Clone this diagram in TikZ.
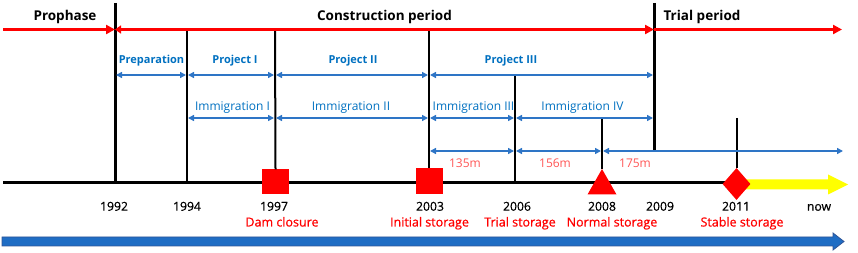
\documentclass[tikz,border=0pt]{standalone}
\usepackage{fontspec}
\setmainfont{Open Sans}
\newfontfamily\medfont[FakeBold=0.6]{Open Sans}
\usetikzlibrary{arrows.meta, shapes.geometric}

\definecolor{lblue}{HTML}{2E75C6}
\definecolor{tblue}{HTML}{0070C0}
\definecolor{lred}{HTML}{FF5555}
\definecolor{evred}{HTML}{FF0000}
\definecolor{bigblue}{HTML}{1F6DC4}
\definecolor{bigblueb}{HTML}{2F5597}
\definecolor{yel}{HTML}{FFFF00}

\begin{document}
\begin{tikzpicture}[x=1pt,y=-1pt,
  phase/.style={font=\fontsize{13.5}{15}\selectfont\bfseries, inner sep=0, anchor=base},
  proj/.style={font=\fontsize{11}{13}\selectfont\bfseries, text=tblue, inner sep=0, anchor=base},
  immi/.style={font=\fontsize{12}{14}\selectfont, text=tblue, inner sep=0, anchor=base},
  lvl/.style={font=\fontsize{12}{14}\selectfont, text=lred, inner sep=0, anchor=base},
  yr/.style={font=\medfont\fontsize{12.2}{14}\selectfont, inner sep=0, anchor=base},
  evt/.style={font=\medfont\fontsize{12.5}{14}\selectfont, text=evred, inner sep=0, anchor=base},
  redarr/.style={red, line width=3pt, -{Triangle[length=9pt,width=9pt]}},
  redarrb/.style={red, line width=3pt, {Triangle[length=6pt,width=8pt]}-{Triangle[length=9pt,width=9pt]}},
  bluearr/.style={lblue, line width=1.5pt, {Triangle[length=6pt,width=6pt]}-{Triangle[length=6pt,width=6pt]}, shorten <=1pt, shorten >=1pt},
  thicktick/.style={black, line width=3pt},
  thintick/.style={black, line width=2pt},
  marker/.style={fill=evred, draw=none, inner sep=0},
]
\useasboundingbox (0,0) rectangle (858,253);

% ---- coordinates on the red period line
\coordinate (r0) at (3,29.5);
\coordinate (r92) at (115,29.5);
\coordinate (r09) at (654,29.5);
\coordinate (rend) at (842,29.5);

% ---- tick coordinates
\coordinate (k92t) at (115,3);    \coordinate (k92b) at (115,182.5);
\coordinate (k94t) at (187,29.5); \coordinate (k94b) at (187,182.5);
\coordinate (k97t) at (275,29.5);
\coordinate (k03t) at (429,29.5);
\coordinate (k06t) at (515,75);   \coordinate (k06b) at (515,182.5);
\coordinate (k08t) at (602,118);
\coordinate (k09t) at (654,3);    \coordinate (k09b) at (654,151);
\coordinate (k11t) at (736.5,118);

% ---- timeline ends
\coordinate (t0) at (3,182.5);
\coordinate (t11) at (737,182.5);

% ---- bottom blue arrow
\fill[bigblue, draw=bigblueb, line width=0.8pt]
  (2,237) -- (833,237) -- (833,233) -- (844,241.5) -- (833,250) -- (833,246) -- (2,246) -- cycle;

% ---- black timeline
\draw[black, line width=2.5pt] (t0) -- (t11);

% ---- yellow arrow
\fill[yel] (737,179.5) -- (828,179.5) -- (828,174.5) -- (848,184.5) -- (828,194.5) -- (828,189.5) -- (737,189.5) -- cycle;

% ---- markers
\node[marker, minimum width=27pt, minimum height=25pt] (m97) at (275.5,182) {};
\node[marker, minimum width=27pt, minimum height=26pt] (m03) at (429,181) {};
\coordinate (m08) at (602,169);
\fill[evred] (m08) -- (616.5,194.5) -- (587.5,194.5) -- cycle;
\node[marker, diamond, minimum width=28pt, minimum height=32pt] (m11) at (736.5,184) {};

% ---- ticks
\draw[thicktick] (k92t) -- (k92b);
\draw[thicktick] (k09t) -- (k09b);
\draw[thintick] (k94t) -- (k94b);
\draw[thintick] (k97t) -- (m97.north);
\draw[thintick] (k03t) -- (m03.north);
\draw[thintick] (k06t) -- (k06b);
\draw[thintick] (k08t) -- (m08);
\draw[thintick] (k11t) -- (m11.north);

% ---- red period arrows
\draw[redarr] (r0) -- (r92);
\draw[redarrb] (r92) -- (r09);
\draw[redarr] (r09) -- (rend);

% ---- project arrows (row 1)
\coordinate (p1a) at (115,75); \coordinate (p1b) at (187,75);
\coordinate (p1c) at (275,75); \coordinate (p1d) at (429,75);
\coordinate (p1e) at (654,75);
\draw[bluearr] (p1a) -- (p1b);
\draw[bluearr] (p1b) -- (p1c);
\draw[bluearr] (p1c) -- (p1d);
\draw[bluearr] (p1d) -- (p1e);

% ---- immigration arrows (row 2)
\coordinate (p2a) at (187,118); \coordinate (p2b) at (275,118);
\coordinate (p2c) at (429,118); \coordinate (p2d) at (515,118);
\coordinate (p2e) at (654,118);
\draw[bluearr] (p2a) -- (p2b);
\draw[bluearr] (p2b) -- (p2c);
\draw[bluearr] (p2c) -- (p2d);
\draw[bluearr] (p2d) -- (p2e);

% ---- water level arrows (row 3)
\coordinate (p3a) at (429,151); \coordinate (p3b) at (515,151);
\coordinate (p3c) at (602,151); \coordinate (p3d) at (844,151);
\draw[bluearr] (p3a) -- (p3b);
\draw[bluearr] (p3b) -- (p3c);
\draw[bluearr] (p3c) -- (p3d);

% ---- titles
\node[phase] (tpro) at (65,21) {Prophase};
\node[phase] (tcon) at (384.5,21) {Construction period};
\node[phase] (ttri) at (702,21) {Trial period};

% ---- row 1 labels
\node[proj] (lprep) at (151.5,64) {Preparation};
\node[proj] (lp1) at (235,64) {Project I};
\node[proj] (lp2) at (353,64) {Project II};
\node[proj] (lp3) at (511,64) {Project III};

% ---- row 2 labels
\node[immi] (li1) at (232.5,111) {Immigration I};
\node[immi] (li2) at (351,111) {Immigration II};
\node[immi] (li3) at (473.5,111) {Immigration III};
\node[immi] (li4) at (582.5,111) {Immigration IV};

% ---- row 3 labels
\node[lvl] (l135) at (465,167.5) {135m};
\node[lvl] (l156) at (555,167.5) {156m};
\node[lvl] (l175) at (635,167.5) {175m};

% ---- years
\node[yr] (y92) at (114,210.7) {1992};
\node[yr] (y94) at (187,210.7) {1994};
\node[yr] (y97) at (274,210.7) {1997};
\node[yr] (y03) at (430,210.7) {2003};
\node[yr] (y06) at (517,210.7) {2006};
\node[yr] (y08) at (602,210.7) {2008};
\node[yr] (y09) at (660,210.7) {2009};
\node[yr] (y11) at (736,210.7) {2011};
\node[yr] (ynow) at (819,210.7) {now};

% ---- events
\node[evt] (e97) at (282,226.5) {Dam closure};
\node[evt] (e03) at (429.5,226.5) {Initial storage};
\node[evt] (e06) at (520,226.5) {Trial storage};
\node[evt] (e08) at (612,226.5) {Normal storage};
\node[evt] (e11) at (742,226.5) {Stable storage};
\end{tikzpicture}
\end{document}
